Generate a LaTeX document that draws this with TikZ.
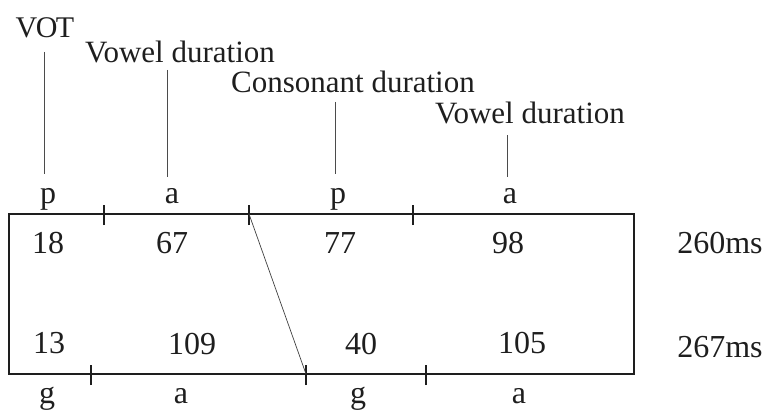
\documentclass[tikz,border=0pt]{standalone}
\usepackage{fontspec}
\setmainfont{Liberation Serif}
\definecolor{ink}{HTML}{1E1E1E}
\begin{document}
\begin{tikzpicture}[x=1pt,y=-1pt,
  txt/.style={anchor=base,inner sep=0pt,text=ink,font=\fontsize{32}{38}\selectfont},
  lbl/.style={anchor=base,inner sep=0pt,text=ink,font=\fontsize{31}{36}\selectfont},
  leader/.style={draw=ink!80,line width=0.7pt},
  frame/.style={draw=ink,line width=2.4pt},
  tick/.style={draw=ink,line width=1.9pt},
  thin/.style={draw=ink!85,line width=0.7pt}]
\useasboundingbox (0,0) rectangle (767,409);
% labels above
\node[lbl,font=\fontsize{30}{34}\selectfont] (vot) at (45,38) {V\kern-1.5ptO\kern-1.5ptT};
\node[lbl] (vd1) at (180,63) {Vowel duration};
\node[lbl] (cd) at (353,93) {Consonant duration};
\node[lbl] (vd2) at (530,123) {Vowel duration};
% leader lines
\coordinate (l1a) at (44,52);  \coordinate (l1b) at (44,174);
\coordinate (l2a) at (167,70); \coordinate (l2b) at (167,177);
\coordinate (l3a) at (335,102); \coordinate (l3b) at (335,174);
\coordinate (l4a) at (507,135); \coordinate (l4b) at (507,177);
\draw[leader] (l1a) -- (l1b);
\draw[leader] (l2a) -- (l2b);
\draw[leader] (l3a) -- (l3b);
\draw[leader] (l4a) -- (l4b);
% top segment labels
\node[txt] (tp1) at (48,203) {p};
\node[txt] (ta1) at (172,203) {a};
\node[txt] (tp2) at (338,203) {p};
\node[txt] (ta2) at (510,203) {a};
% frame
\coordinate (tl) at (9,214); \coordinate (br) at (634,374);
\draw[frame] (tl) rectangle (br);
% top ticks
\coordinate (t1) at (104,214); \coordinate (t2) at (249,214); \coordinate (t3) at (413,214);
\foreach \c in {t1,t2,t3} \draw[tick] ([yshift=-11pt]\c) -- ([yshift=9pt]\c);
% bottom ticks
\coordinate (b1) at (91,374); \coordinate (b2) at (306,374); \coordinate (b3) at (426,374);
\foreach \c in {b1,b2,b3} \draw[tick] ([yshift=-11pt]\c) -- ([yshift=9pt]\c);
% diagonal
\draw[thin] (t2) -- (b2);
% numbers
\node[txt] (n18) at (48,253) {18};
\node[txt] (n67) at (172,253) {67};
\node[txt] (n77) at (340,253) {77};
\node[txt] (n98) at (508,253) {98};
\node[txt] (n13) at (49,353) {13};
\node[txt] (n109) at (192,354) {109};
\node[txt] (n40) at (361,354) {40};
\node[txt] (n105) at (522,353) {105};
\node[txt] (tot1) at (720,253) {260ms};
\node[txt] (tot2) at (720,357) {267ms};
% bottom segment labels
\node[txt] (bg1) at (47,403) {g};
\node[txt] (ba1) at (181,403) {a};
\node[txt] (bg2) at (358,403) {g};
\node[txt] (ba2) at (519,403) {a};
\end{tikzpicture}
\end{document}
